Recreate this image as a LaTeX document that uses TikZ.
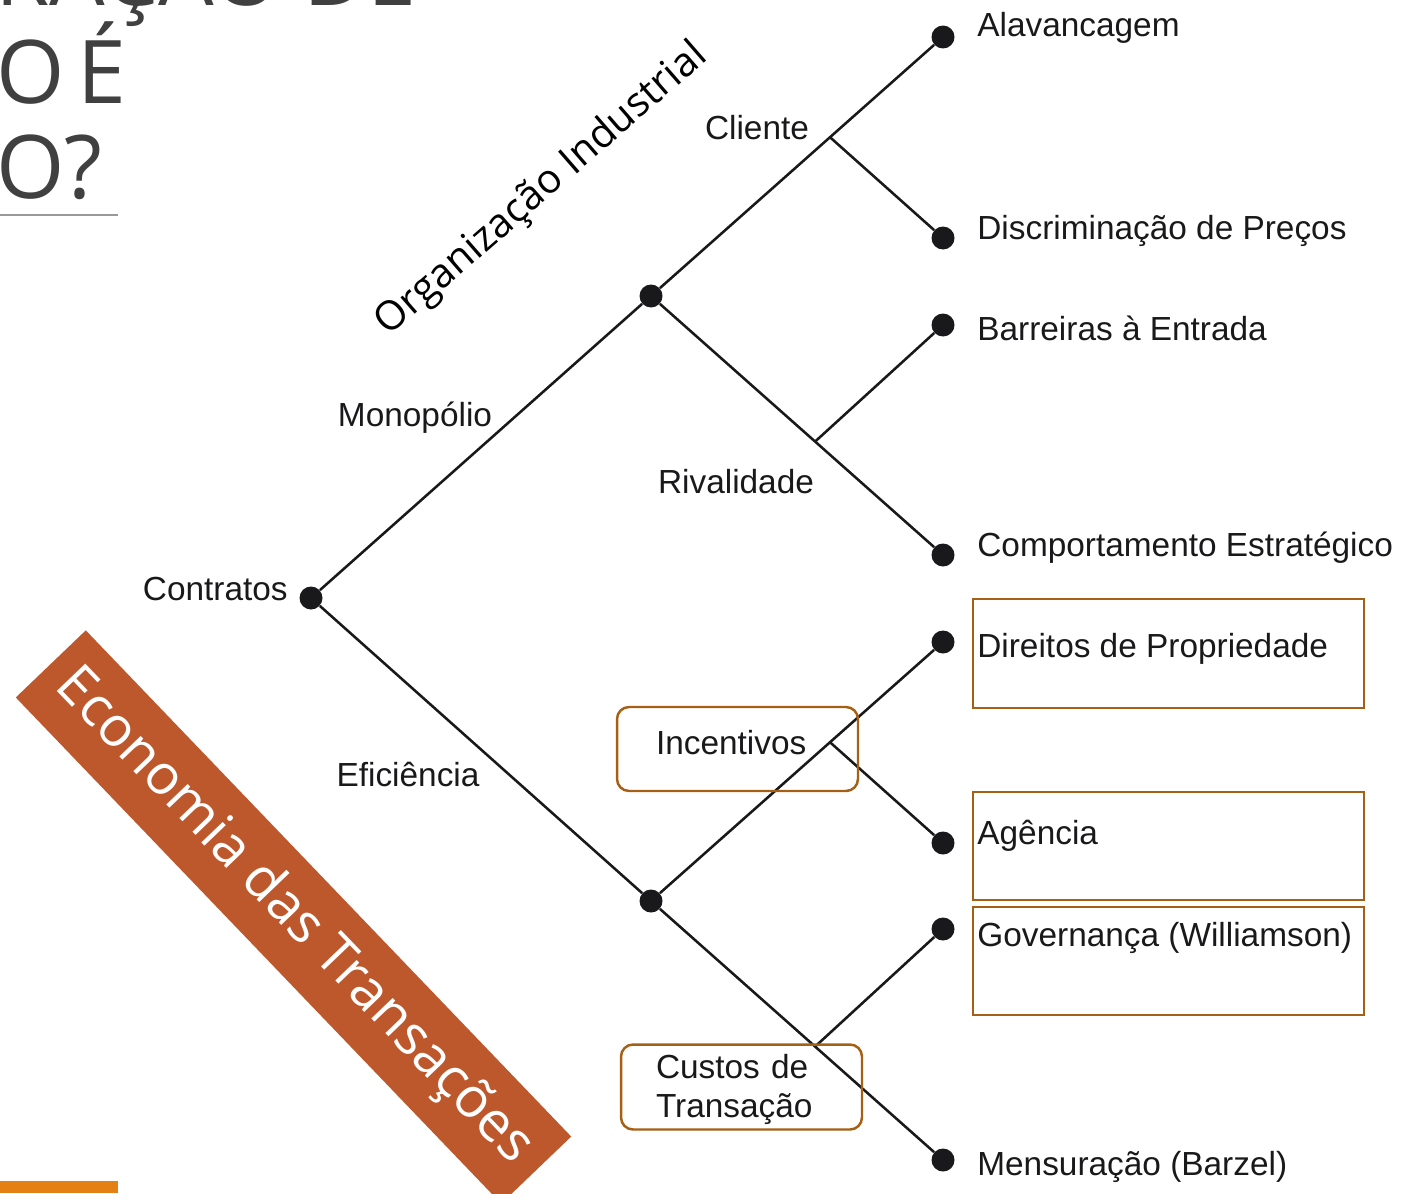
\documentclass[tikz,border=0pt]{standalone}
\usepackage{fontspec}
\setmainfont{Liberation Sans}
\newfontfamily\slidefont{Open Sans}
\usepackage{xcolor}
\usepackage{tikz}
\usetikzlibrary{calc}

\definecolor{inkblack}{RGB}{25,25,27}
\definecolor{boxbrown}{RGB}{166,96,22}
\definecolor{bannerred}{RGB}{189,88,44}
\definecolor{barorange}{RGB}{228,128,20}
\definecolor{titlegray}{RGB}{64,64,64}

\begin{document}
\begin{tikzpicture}[x=0.02cm, y=-0.02cm,
    dot/.style={circle, fill=inkblack, inner sep=0pt, minimum size=0.46cm},
    branch/.style={draw=inkblack, line width=1.45pt},
    lbl/.style={inner sep=0pt, text=inkblack, font=\fontsize{19}{21.5}\selectfont},
    roundbox/.style={draw=boxbrown, line width=1.4pt, rounded corners=0.24cm, inner sep=0pt,
        text=inkblack, font=\fontsize{19}{21.5}\selectfont, minimum width=4.82cm},
    catbox/.style={draw=boxbrown, line width=1.4pt, inner sep=0pt, anchor=north west,
        minimum width=7.82cm},
    titletxt/.style={inner sep=0pt, text=titlegray, font=\slidefont\fontsize{50}{54}\selectfont}]
    \useasboundingbox (0,0) rectangle (1408,1193);
    \clip (0,0) rectangle (1408,1193);

    % Slide title (cut off)
    \node[titletxt, anchor=base east] (titlea) at (417,6) {TRAÇÃO DE};
    \node[titletxt, anchor=base west] (titleb) at (-4,103) {O\hspace{-5.5pt} É};
    \node[titletxt, anchor=base west] (titlec) at (-4,198) {O?};
    \draw[gray!80, line width=0.8pt] (0,215) -- (118,215);
    \fill[barorange] (0,1181) rectangle (118,1193);

    % Tree nodes
    \node[dot] (contratos) at (311,598) {};
    \node[dot] (monopolio) at (651,296) {};
    \node[dot] (eficiencia) at (651,901) {};

    \node[dot] (alavancagem) at (943,37) {};
    \node[dot] (discriminacao) at (943,238) {};
    \node[dot] (barreiras) at (943,325) {};
    \node[dot] (comportamento) at (943,555) {};
    \node[dot] (direitos) at (943,642) {};
    \node[dot] (agencia) at (943,843) {};
    \node[dot] (governanca) at (943,929) {};
    \node[dot] (mensuracao) at (943,1160) {};

    % Branch points
    \coordinate (cliente) at ($(monopolio.center)!0.613!(alavancagem.center)$);
    \coordinate (rivalidade) at ($(monopolio.center)!0.562!(comportamento.center)$);
    \coordinate (incentivo) at ($(eficiencia.center)!0.613!(direitos.center)$);
    \coordinate (custo) at ($(eficiencia.center)!0.562!(mensuracao.center)$);

    % Branches
    \draw[branch] (contratos) -- (monopolio);
    \draw[branch] (contratos) -- (eficiencia);
    \draw[branch] (monopolio) -- (alavancagem);
    \draw[branch] (cliente) -- (discriminacao);
    \draw[branch] (monopolio) -- (comportamento);
    \draw[branch] (rivalidade) -- (barreiras);
    \draw[branch] (eficiencia) -- (direitos);
    \draw[branch] (incentivo) -- (agencia);
    \draw[branch] (eficiencia) -- (mensuracao);
    \draw[branch] (custo) -- (governanca);

    % Branch labels
    \node[lbl, anchor=base east] (contratostxt) at (288,600) {Contratos};
    \node[lbl, anchor=base] (monopoliotxt) at (415,426) {Monopólio};
    \node[lbl, anchor=base] (eficienciatxt) at (408,786) {Eficiência};
    \node[lbl, anchor=base] (clientetxt) at (757,139) {Cliente};
    \node[lbl, anchor=base] (rivalidadetxt) at (736,493) {Rivalidade};
    \node[roundbox, minimum height=1.68cm, text width=3.26cm, inner xsep=0.78cm, align=left,
        text depth=0.28cm] (incentivostxt) at (737.5,749) {Incentivos};
    \node[roundbox, minimum height=1.7cm, text width=3.42cm, inner xsep=0.7cm, align=left,
        font=\fontsize{19}{22}\selectfont, text height=0.58cm] (custostxt) at (741.5,1087) {Custos de\\Transação};

    % Leaf labels
    \node[lbl, anchor=base west] (alavancagemtxt) at (977,37) {Alavancagem};
    \node[lbl, anchor=base west] (discriminacaotxt) at (977,239) {Discriminação de Preços};
    \node[lbl, anchor=base west] (barreirastxt) at (977,340) {Barreiras à Entrada};
    \node[lbl, anchor=base west] (comportamentotxt) at (977,556) {Comportamento Estratégico};
    \node[lbl, anchor=base west] (direitostxt) at (977,657) {Direitos de Propriedade};
    \node[lbl, anchor=base west] (agenciatxt) at (977,844) {Agência};
    \node[lbl, anchor=base west] (governancatxt) at (977,946) {Governança (Williamson)};
    \node[lbl, anchor=base west] (mensuracaotxt) at (977,1175) {Mensuração (Barzel)};

    % Leaf boxes
    \node[catbox, minimum height=2.18cm] (direitosbox) at (972,598) {};
    \node[catbox, minimum height=2.16cm] (agenciabox) at (972,791) {};
    \node[catbox, minimum height=2.16cm] (governancabox) at (972,906) {};

    % Schools
    \node[rotate=41, inner sep=0pt, text=black, font=\slidefont\fontsize{23}{27}\selectfont] (orgind) at (542,190) {Organização Industrial};
    \node[rotate=-46.2, fill=bannerred, inner sep=0pt, minimum width=14.03cm, minimum height=1.94cm,
        text=white, font=\slidefont\fontsize{31.5}{36}\selectfont] (economia) at (293.5,917) {Economia das Transações};
\end{tikzpicture}
\end{document}
